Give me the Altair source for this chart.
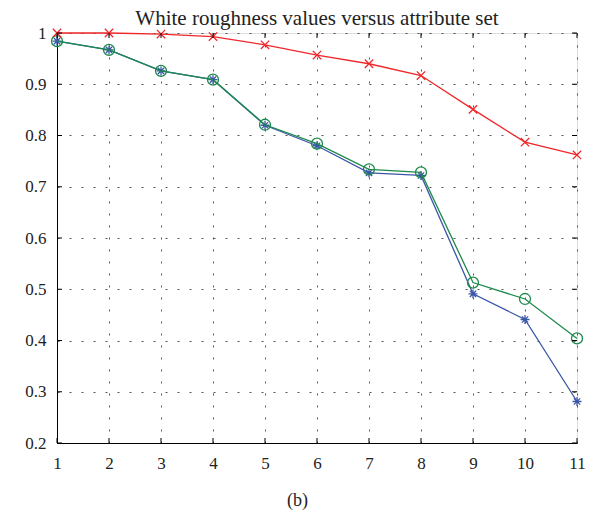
import altair as alt
import pandas as pd

attr = [1, 2, 3, 4, 5, 6, 7, 8, 9, 10, 11]
red_vals = [1.0, 1.0, 0.998, 0.993, 0.977, 0.957, 0.940, 0.917, 0.851, 0.787, 0.762]
green_vals = [0.984, 0.967, 0.926, 0.909, 0.821, 0.784, 0.734, 0.728, 0.513, 0.481, 0.404]
blue_vals = [0.984, 0.967, 0.926, 0.909, 0.820, 0.780, 0.727, 0.722, 0.491, 0.441, 0.281]

x_ticks = [1, 2, 3, 4, 5, 6, 7, 8, 9, 10, 11]
y_ticks = [0.2, 0.3, 0.4, 0.5, 0.6, 0.7, 0.8, 0.9, 1.0]

FONT = "Liberation Serif"
W, H = 520, 410

X_PATH = "M-1,-1L1,1M-1,1L1,-1"
STAR_PATH = "M-1,0L1,0M0,-1L0,1M-0.7,-0.7L0.7,0.7M-0.7,0.7L0.7,-0.7"

series = [
    ("blue", blue_vals, "#3b57a8", STAR_PATH, 80),
    ("green", green_vals, "#1d8a4c", "circle", 120),
    ("red", red_vals, "#f0262a", X_PATH, 70),
]

xscale = alt.Scale(domain=[1, 11], nice=False, zero=False)
yscale = alt.Scale(domain=[0.2, 1.0], nice=False, zero=False)

xaxis = alt.Axis(values=x_ticks, tickSize=0, labelPadding=12, labelFontSize=17,
                 labelFont=FONT, labelColor="#222", grid=True, gridDash=[2, 10],
                 gridColor="#444", gridOpacity=0.9, domainColor="#000",
                 title="(b)", titleFont=FONT, titleFontSize=18, titleFontWeight="normal",
                 titleColor="#222", titleX=240, titleY=57, titleBaseline="middle",
                 labelFlush=False)
yaxis = alt.Axis(values=y_ticks, tickSize=0, labelPadding=11, labelFontSize=17,
                 labelFont=FONT, labelColor="#222", grid=True, gridDash=[2, 10],
                 gridColor="#444", gridOpacity=0.9, domainColor="#000",
                 format=".1~f", title=None, labelFlush=False)


def X():
    return alt.X("x:Q", scale=xscale, axis=xaxis)


def Y():
    return alt.Y("y:Q", scale=yscale, axis=yaxis)


layers = []
for name, vals, color, shape, size in series:
    df = pd.DataFrame({"x": attr, "y": vals})
    base = alt.Chart(df)
    line = base.mark_line(color=color, strokeWidth=1.3).encode(x=X(), y=Y())
    pts = base.mark_point(shape=shape, size=size, filled=False, color=color,
                          strokeWidth=1.3, opacity=1).encode(x=X(), y=Y())
    layers += [line, pts]

xt = pd.DataFrame({"x": x_ticks})
yt = pd.DataFrame({"y": y_ticks})
tick_layers = [
    alt.Chart(xt).mark_rule(color="#000", strokeWidth=1).encode(
        x=X(), y=alt.value(H), y2=alt.value(H - 5)),
    alt.Chart(xt).mark_rule(color="#000", strokeWidth=1).encode(
        x=X(), y=alt.value(0), y2=alt.value(5)),
    alt.Chart(yt).mark_rule(color="#000", strokeWidth=1).encode(
        y=Y(), x=alt.value(0), x2=alt.value(5)),
    alt.Chart(yt).mark_rule(color="#000", strokeWidth=1).encode(
        y=Y(), x=alt.value(W), x2=alt.value(W - 5)),
]

chart = alt.layer(*layers, *tick_layers).properties(
    width=W, height=H,
    title=alt.TitleParams("White roughness values versus attribute set", font=FONT,
                          fontSize=21, fontWeight="normal", color="#222", offset=0, dy=5),
    padding={"left": 49, "top": 25, "right": 9, "bottom": 67},
    autosize="none",
).configure_view(stroke="#000", strokeWidth=1.2).configure(background="white")

chart.save("out.html", embed_options={"renderer": "svg", "actions": False})
